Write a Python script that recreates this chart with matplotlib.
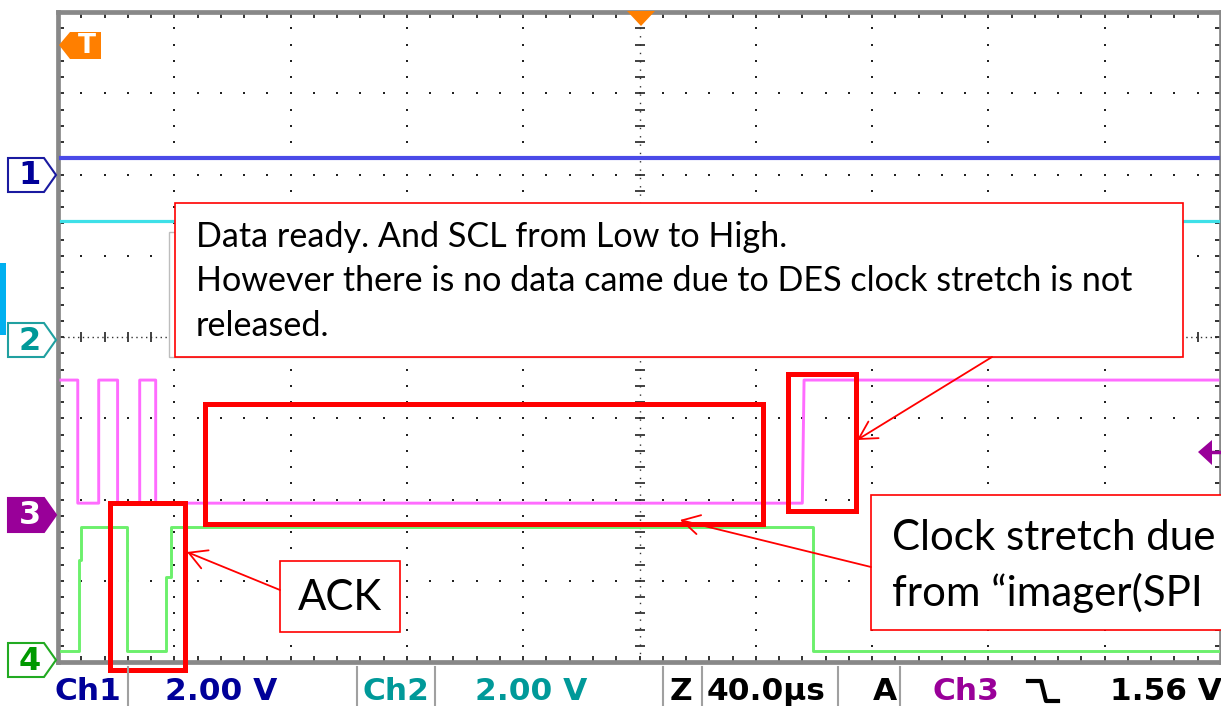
import numpy as np
import matplotlib.pyplot as plt
from matplotlib.patches import Rectangle, Polygon

W, H = 1221, 706

# scope settings
us_per_div = 40.0
v_per_div = 2.0

# ground offsets of each channel (in divisions from screen centre)
ch1_gnd = 2.0
ch2_gnd = 0.0
ch3_gnd = -2.19
ch4_gnd = -3.97

# traces, time in us (trigger at 0) and level in volts
ch1_t = [-199.0, 198.9]
ch1_v = [0.4, 0.4]

ch2_t = [-199.0, 198.9]
ch2_v = [2.86, 2.86]

ch3_t = [-199.0, -193.2, -193.2, -186.0, -186.0, -179.5, -179.5, -171.9,
         -171.9, -166.4, -166.4, 56.0, 56.6, 198.9]
ch3_v = [3.32, 3.32, 0.29, 0.29, 3.32, 3.32, 0.29, 0.29,
         3.32, 3.32, 0.29, 0.29, 3.32, 3.32]

ch4_t = [-199.0, -192.8, -192.8, -192.1, -192.1, -176.4, -176.4, -163.0,
         -163.0, -161.3, -161.3, 59.6, 59.6, 198.9]
ch4_v = [0.21, 0.21, 2.45, 2.45, 3.26, 3.26, 0.21, 0.21,
         2.03, 2.03, 3.26, 3.26, 0.21, 0.21]

status_items = ["Ch1", "2.00 V", "Ch2", "2.00 V", "Z", "40.0µs", "A", "Ch3", "1.56 V"]

top_note = ["Data ready. And SCL from Low to High.",
            "However there is no data came due to DES clock stretch is not",
            "released."]
clock_note = ["Clock stretch due", "from \u201cimager(SPI"]
ack_note = "ACK"

col1 = "#4a4ae8"
col2 = "#3ee0e8"
col3 = "#ff6cff"
col4 = "#6cf06c"

fig = plt.figure(figsize=(W / 100, H / 100), dpi=100)

# scope screen, pixels: left 58, top 12, bottom 662, centre x 641
x0, y_top, y_bot, xc = 58, 12, 662, 641
pxdiv = (xc - x0) / 5.0
xmax = -200 + (W - x0) / pxdiv * us_per_div
ax = fig.add_axes([x0 / W, (H - y_bot) / H, (W - x0) / W, (y_bot - y_top) / H])
ax.set_xlim(-200, xmax)
ax.set_ylim(-4, 4)

for s in ax.spines.values():
    s.set_color("#888888")
    s.set_linewidth(3.4)
ax.set_xticks(np.arange(-200, 200.1, 8))
ax.set_yticks(np.arange(-4, 4.01, 0.2))
ax.tick_params(direction="in", length=4, width=1.3, color="#222222",
               top=True, right=True, labelbottom=False, labelleft=False)

# graticule dots
dot_kw = dict(marker="s", s=3.2, color="#222222", linewidths=0, zorder=1)
ys = np.arange(-3.8, 3.81, 0.2)
xs = np.arange(-192, 199, 8)
for k in range(1, 10):
    t = -200 + k * us_per_div
    if k == 5:
        continue
    ax.scatter(np.full(len(ys), t), ys, **dot_kw)
for j in range(-3, 4):
    if j == 0:
        continue
    ax.scatter(xs, np.full(len(xs), j), **dot_kw)
# centre cross
ax.plot([-200, xmax], [0, 0], ls=(0, (1, 2.5)), color="#333333", lw=1, zorder=1)
ax.plot(xs, np.zeros(len(xs)), ls="none", marker="|", ms=7, mew=1.3, color="#333333", zorder=1)
ax.plot([0, 0], [-4, 4], ls=(0, (1, 5)), color="#333333", lw=1, zorder=1)
ax.plot(np.zeros(len(ys)), ys, ls="none", marker="_", ms=7, mew=1.3, color="#333333", zorder=1)

# traces
def lvl(v, gnd):
    return [x / v_per_div + gnd for x in v]

ax.plot(ch1_t, lvl(ch1_v, ch1_gnd), color=col1, lw=3.0, zorder=3)
ax.plot(ch2_t, lvl(ch2_v, ch2_gnd), color=col2, lw=2.3, zorder=3)
ax.plot(ch3_t, lvl(ch3_v, ch3_gnd), color=col3, lw=2.1, zorder=3)
ax.plot(ch4_t, lvl(ch4_v, ch4_gnd), color=col4, lw=2.1, zorder=3)

# overlay in screenshot pixels
ov = fig.add_axes([0, 0, 1, 1])
ov.set_xlim(0, W)
ov.set_ylim(H, 0)
ov.axis("off")

# trigger markers
ov.add_patch(Polygon([(59, 45), (70, 32), (101, 32), (101, 59), (70, 59)], closed=True,
                     fc="#ff7f00", ec="none"))
ov.text(87, 46, "T", color="white", fontsize=19, fontweight="bold", ha="center", va="center")
ov.add_patch(Polygon([(627, 11), (655, 11), (641, 26)], closed=True, fc="#ff7f00", ec="none"))
ov.add_patch(Polygon([(1198, 452), (1212, 440), (1212, 465)], closed=True, fc="#990099", ec="none"))
ov.plot([1210, W], [452, 452], color="#990099", lw=2.5)

# channel markers
def marker(yc, label, edge, face, tcol):
    pts = [(8, yc - 17), (44, yc - 17), (56, yc), (44, yc + 17), (8, yc + 17)]
    ov.add_patch(Polygon(pts, closed=True, fc=face, ec=edge, lw=1.5))
    ov.text(30, yc + 1, label, color=tcol, fontsize=23, fontweight="bold",
            ha="center", va="center")

marker(175, "1", "#1a1aa0", "white", "#000099")
marker(340, "2", "#20a0a0", "white", "#009999")
marker(515, "3", "#990099", "#990099", "white")
marker(660, "4", "#22aa22", "white", "#009900")

ov.add_patch(Rectangle((-3, 263), 9, 72, fc="#00b0f0", ec="none"))

# status bar
for xv in [128, 357, 435, 663, 702, 838, 900]:
    ov.plot([xv, xv], [667, H], color="#a0a0a0", lw=1.5)
status_x = [55, 165, 362, 475, 670, 707, 873, 933, 1110]
status_c = ["#000099", "#000099", "#009999", "#009999", "black", "black", "black", "#990099", "black"]
for s, xv, c in zip(status_items, status_x, status_c):
    ov.text(xv, 692, s, color=c, fontsize=22.5, fontweight="bold", ha="left", va="center")
ov.plot([1028, 1041, 1046, 1058], [681, 681, 701, 701], color="black", lw=3)

# annotation boxes
ov.add_patch(Rectangle((169, 232), 1180 - 169, 357 - 232, fc="white", ec="#bdbdbd", lw=1))
ov.add_patch(Rectangle((175, 203), 1183 - 175, 357 - 203, fc="white", ec="red", lw=1.2))
ov.add_patch(Rectangle((280, 561), 120, 71, fc="white", ec="red", lw=1.2))
ov.add_patch(Rectangle((871, 495), 420, 135, fc="white", ec="red", lw=1.2))

for (x, y, w_, h_) in [(205, 404, 558, 120), (788, 374, 68, 137), (110, 503, 75, 167)]:
    ov.add_patch(Rectangle((x, y), w_, h_, fc="none", ec="red", lw=3.6))

akw = dict(arrowstyle="->,head_length=0.45,head_width=0.25", color="red", lw=1.3,
           mutation_scale=28, shrinkA=0, shrinkB=0)
ov.annotate("", xy=(187, 552), xytext=(280, 590), arrowprops=akw)
ov.annotate("", xy=(680, 520), xytext=(871, 567), arrowprops=akw)
ov.annotate("", xy=(857, 440), xytext=(992, 357), arrowprops=akw)

tkw = dict(family="Lato", color="black", ha="left", va="baseline")
tops = [ov.text(196, yb, s, fontsize=22, **tkw) for s, yb in zip(top_note, [247, 291, 336])]
clk = [ov.text(892, yb, s, fontsize=28, **tkw) for s, yb in zip(clock_note, [550, 606])]
ack = ov.text(340, 610, ack_note, fontsize=28, family="Lato", color="black",
              ha="center", va="baseline")

# size the note fonts to the widths seen in the picture
fig.canvas.draw()
f_top = 22 * 932 / tops[1].get_window_extent().width
for t in tops:
    t.set_fontsize(f_top)
f_clk = 28 * 324 / clk[0].get_window_extent().width
for t in clk:
    t.set_fontsize(f_clk)
ack.set_fontsize(f_clk)

fig.savefig("out.png", dpi=100)
